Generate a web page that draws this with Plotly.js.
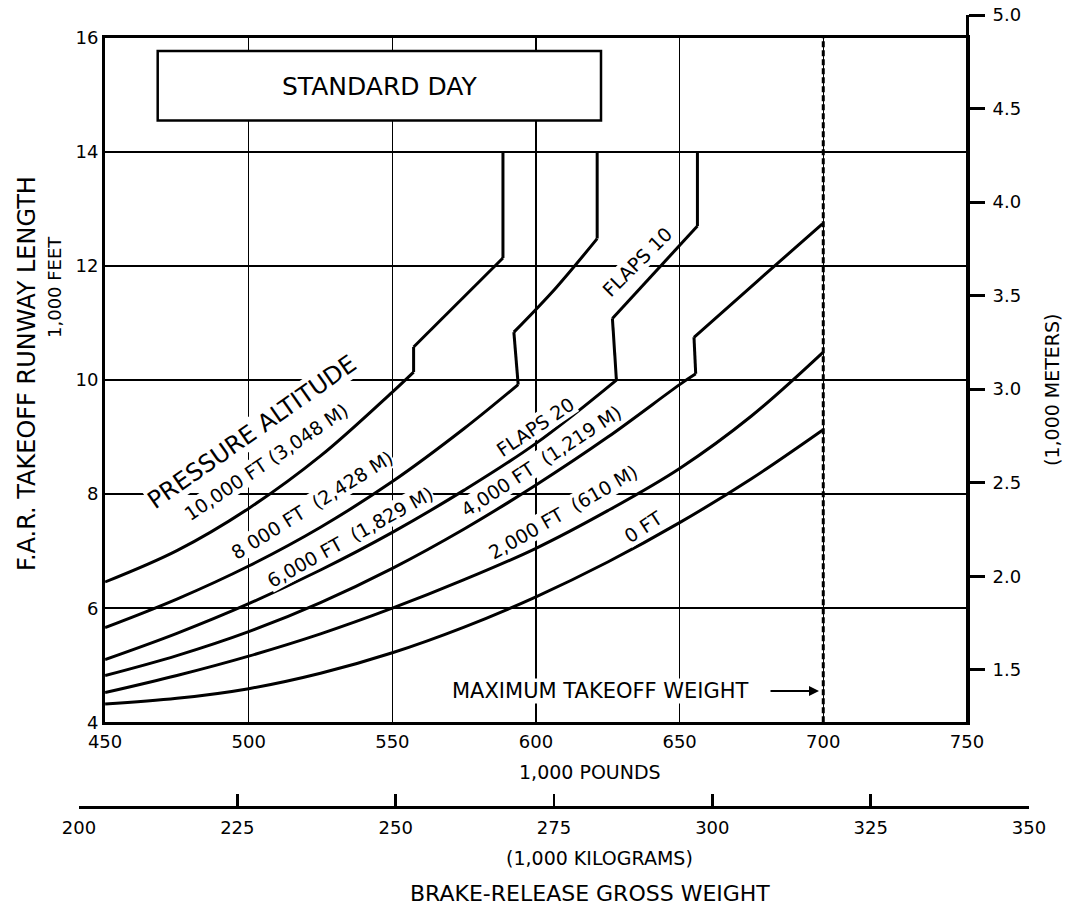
<!DOCTYPE html>
<html><head><meta charset="utf-8">
<script src="https://cdn.plot.ly/plotly-3.0.1.min.js"></script>
<style>html,body{margin:0;padding:0;background:#fff;} #chart{width:1071px;height:911px;}</style>
</head><body><div id="chart"></div>
<script>
// ---------------- data ----------------
const xTicksLb = [450, 500, 550, 600, 650, 700, 750];
const yTicksFt = [4, 6, 8, 10, 12, 14, 16];
const xTicksKg = [200, 225, 250, 275, 300, 325, 350];
const yTicksM  = [1.5, 2.0, 2.5, 3.0, 3.5, 4.0, 4.5, 5.0];
const yTicksMText = ['1.5', '2.0', '2.5', '3.0', '3.5', '4.0', '4.5', '5.0'];
const maxTakeoffWeight = 700;   // 1,000 lb
const runwayCap = 14;           // 1,000 ft

// 10,000 ft pressure altitude
const w10k_a = [450, 475, 500, 525, 550, 557.4];
const l10k_a = [6.46, 7.01, 7.75, 8.67, 9.79, 10.14];
const w10k_b = [557.4, 588.5];
const l10k_b = [10.58, 12.14];
// 8,000 ft
const w8k_a = [450, 475, 500, 525, 550, 575, 593.8];
const l8k_a = [5.66, 6.16, 6.74, 7.42, 8.22, 9.15, 9.92];
const w8k_b = [592.3, 607, 621.3];
const l8k_b = [10.84, 11.62, 12.48];
// 6,000 ft
const w6k_a = [450, 475, 500, 525, 550, 575, 600, 628];
const l6k_a = [5.10, 5.56, 6.08, 6.67, 7.33, 8.07, 8.89, 10.0];
const w6k_b = [626.6, 656.2];
const l6k_b = [11.08, 12.70];
// 4,000 ft
const w4k_a = [450, 475, 500, 525, 550, 575, 600, 625, 650, 655.6];
const l4k_a = [4.82, 5.17, 5.59, 6.10, 6.70, 7.39, 8.16, 9.00, 9.92, 10.11];
const w4k_b = [655.0, 677, 699.7];
const l4k_b = [10.75, 11.73, 12.74];
// 2,000 ft
const w2k = [450, 475, 500, 525, 550, 575, 600, 625, 650, 675, 700];
const l2k = [4.52, 4.82, 5.16, 5.55, 6.00, 6.50, 7.05, 7.71, 8.45, 9.37, 10.49];
// 0 ft
const w0k = [450, 475, 500, 525, 550, 575, 600, 625, 650, 675, 699.7];
const l0k = [4.32, 4.42, 4.59, 4.86, 5.22, 5.67, 6.20, 6.81, 7.50, 8.27, 9.12];

const LB_PER_KG = 2.20462;
const M_PER_FT = 0.3048;

// ---------------- geometry ----------------
const W = 1071, H = 911, ML = 79, MR = 42, MT = 15, MB = 104;
const PW = W - ML - MR, PH = H - MT - MB;
const FONT = 'DejaVu Sans';
const kgMin = xTicksKg[0], kgMax = xTicksKg[xTicksKg.length - 1];
const dx0 = (xTicksLb[0] / LB_PER_KG - kgMin) / (kgMax - kgMin);
const dx1 = (xTicksLb[xTicksLb.length - 1] / LB_PER_KG - kgMin) / (kgMax - kgMin);
const dy0 = (H - MB - 722.3) / PH;
const dy1 = (H - MB - 37.8) / PH;
const ftMin = yTicksFt[0], ftMax = yTicksFt[yTicksFt.length - 1];
const mTop = yTicksM[yTicksM.length - 1];
const dy2 = Math.min(1, dy0 + (dy1 - dy0) * ((mTop / M_PER_FT) - ftMin) / (ftMax - ftMin));

// ---------------- traces ----------------
function seg(x, y, shape) {
  return {x: x, y: y, type: 'scatter', mode: 'lines', xaxis: 'x', yaxis: 'y',
    line: {color: '#000', width: 3, shape: shape || 'spline', smoothing: 1},
    hoverinfo: 'skip', showlegend: false};
}
function last(a) { return a[a.length - 1]; }
function curve(wA, lA, wB, lB, cap) {
  const t = [seg(wA, lA)];
  if (wB) {
    t.push(seg([last(wA), wB[0]], [last(lA), lB[0]], 'linear'));
    t.push(seg(wB, lB, wB.length > 2 ? 'spline' : 'linear'));
    if (cap) t.push(seg([last(wB), last(wB)], [last(lB), cap], 'linear'));
  }
  return t;
}
const traces = [].concat(
  curve(w10k_a, l10k_a, w10k_b, l10k_b, runwayCap),
  curve(w8k_a, l8k_a, w8k_b, l8k_b, runwayCap),
  curve(w6k_a, l6k_a, w6k_b, l6k_b, runwayCap),
  curve(w4k_a, l4k_a, w4k_b, l4k_b, null),
  curve(w2k, l2k),
  curve(w0k, l0k)
);
// carrier for the secondary (kg / metre) axes
traces.push({x: [], y: [], type: 'scatter', mode: 'lines', xaxis: 'x2', yaxis: 'y2',
  hoverinfo: 'skip', showlegend: false});

// ---------------- annotations ----------------
function P(px, py) { return {x: (px - ML) / PW, y: (H - MB - py) / PH}; }
function A(text, px, py, size, angle, extra) {
  const p = P(px, py);
  return Object.assign({text: text, x: p.x, y: p.y, xref: 'paper', yref: 'paper',
    showarrow: false, textangle: angle || 0, xanchor: 'center', yanchor: 'middle',
    font: {family: FONT, size: size, color: '#000'}}, extra || {});
}
const MASK = {bgcolor: '#fff', borderpad: 0};
const sp = '\u00a0 ';
const annotations = [
  A('STANDARD DAY', 379, 86, 25),
  A('PRESSURE ALTITUDE', 252, 432, 24, -35, MASK),
  A('10,000 FT (3,048 M)', 266, 462, 19, -34, MASK),
  A('8 000 FT' + sp + '(2,428 M)', 312, 505, 19, -32, MASK),
  A('6,000 FT' + sp + '(1,829 M)', 350, 537, 19, -29, MASK),
  A('4,000 FT' + sp + '(1,219 M)', 541, 461, 19, -33, MASK),
  A('2,000 FT' + sp + '(610 M)', 563, 512, 19, -30, MASK),
  A('0 FT', 643, 527, 19, -33, MASK),
  A('FLAPS 20', 535, 427, 19, -34, MASK),
  A('FLAPS 10', 637, 262, 19, -45, MASK),
  A('MAXIMUM TAKEOFF WEIGHT', 600, 691, 21, 0, MASK),
  Object.assign(A('', 819, 691, 12), {showarrow: true, ax: -50, ay: 0, arrowhead: 2,
    arrowsize: 1, arrowwidth: 2, arrowcolor: '#000', standoff: 0}),
  A('F.A.R. TAKEOFF RUNWAY LENGTH', 27, 374, 24, -90),
  A('1,000 FEET', 54, 287, 18, -90),
  A('(1,000 METERS)', 1052, 390, 19, -90),
  A('1,000 POUNDS', 590, 772, 19),
  A('(1,000 KILOGRAMS)', 599, 858, 19),
  A('BRAKE-RELEASE GROSS WEIGHT', 590, 893, 22)
];

// ---------------- shapes ----------------
const b0 = P(157.7, 120.5), b1 = P(601, 51);
const shapes = [
  {type: 'rect', xref: 'paper', yref: 'paper', x0: b0.x, y0: b0.y, x1: b1.x, y1: b1.y,
    line: {color: '#000', width: 2.5}, fillcolor: '#fff', layer: 'above'},
  {type: 'line', xref: 'x', yref: 'paper', x0: maxTakeoffWeight, x1: maxTakeoffWeight,
    y0: dy0, y1: dy1, line: {color: '#000', width: 3, dash: '6px,3px'}, layer: 'above'}
];

const tf = {family: FONT, size: 18, color: '#000'};
const layout = {
  width: W, height: H, margin: {l: ML, r: MR, t: MT, b: MB, pad: 0},
  paper_bgcolor: '#fff', plot_bgcolor: 'rgba(0,0,0,0)',
  font: {family: FONT, color: '#000'},
  showlegend: false,
  xaxis: {domain: [dx0, dx1], range: [xTicksLb[0], last(xTicksLb)], anchor: 'y',
    tickmode: 'array', tickvals: xTicksLb, ticktext: xTicksLb.map(String),
    showgrid: true, gridcolor: '#000', gridwidth: 1.5, zeroline: false,
    showline: true, linecolor: '#000', linewidth: 3, mirror: true,
    ticks: '', ticklabelstandoff: 1, tickfont: tf, fixedrange: true},
  yaxis: {domain: [dy0, dy1], range: [ftMin, ftMax], anchor: 'x',
    tickmode: 'array', tickvals: yTicksFt, ticktext: yTicksFt.map(String),
    showgrid: true, gridcolor: '#000', gridwidth: 1.5, zeroline: false,
    showline: true, linecolor: '#000', linewidth: 3, mirror: true,
    ticks: '', ticklabelstandoff: 0, tickfont: tf, fixedrange: true},
  xaxis2: {domain: [0, 1], range: [kgMin, kgMax], anchor: 'free', position: 0,
    tickmode: 'array', tickvals: xTicksKg, ticktext: xTicksKg.map(String),
    showgrid: false, zeroline: false, showline: true, linecolor: '#000', linewidth: 2.5,
    ticks: 'inside', ticklen: 12, tickwidth: 2.5, tickcolor: '#000',
    ticklabelstandoff: 4, tickfont: tf, fixedrange: true},
  yaxis2: {domain: [dy0, dy2], range: [ftMin * M_PER_FT, mTop], anchor: 'free',
    position: dx1, side: 'right',
    tickmode: 'array', tickvals: yTicksM, ticktext: yTicksMText,
    showgrid: false, zeroline: false, showline: true, linecolor: '#000', linewidth: 3,
    ticks: 'outside', ticklen: 16, tickwidth: 3, tickcolor: '#000',
    ticklabelstandoff: 4, tickfont: tf, fixedrange: true},
  annotations: annotations,
  shapes: shapes
};

Plotly.newPlot('chart', traces, layout, {displayModeBar: false, staticPlot: true});
</script>
</body></html>
